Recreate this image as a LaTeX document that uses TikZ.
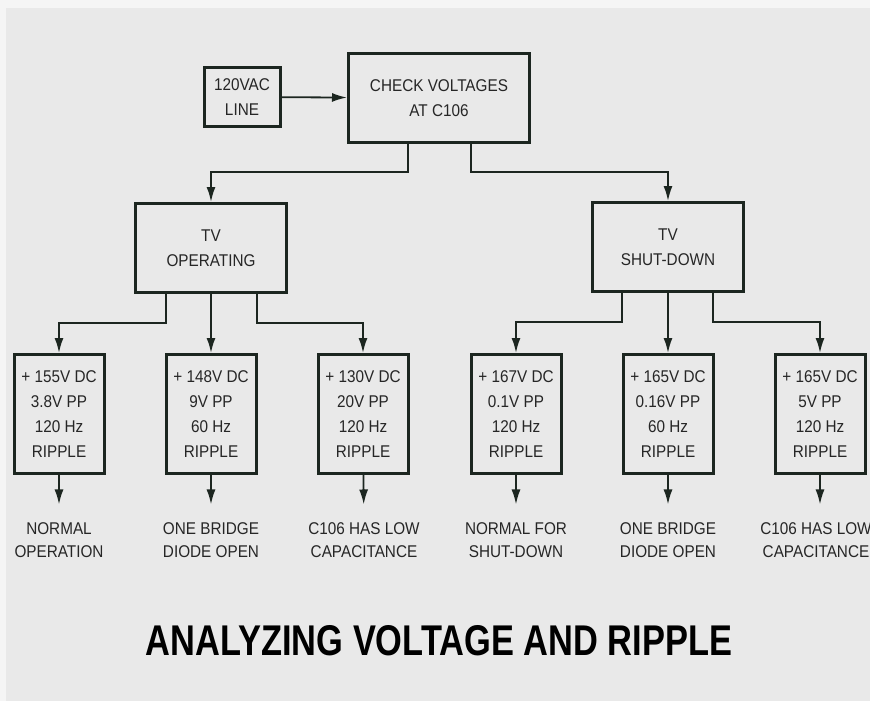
\documentclass[tikz,border=0pt]{standalone}
\usepackage{fontspec}
\newfontfamily\boxfont[FakeStretch=0.9]{Liberation Sans}
\newfontfamily\titlefont[FakeStretch=0.8]{Liberation Sans}
\usetikzlibrary{arrows.meta}
\definecolor{ink}{RGB}{28,38,32}
\definecolor{paper}{RGB}{233,233,233}
\begin{document}
\begin{tikzpicture}[x=1pt,y=-1pt,
 font=\boxfont\fontsize{17}{25}\selectfont,
 box/.style={draw=ink,line width=3pt,align=center,inner sep=2pt,text=black!85},
 small/.style={box,minimum width=90pt,minimum height=119pt},
 mid/.style={box,minimum width=151pt,minimum height=89pt},
 result/.style={align=center,inner sep=2pt,outer ysep=16pt,text=black!85,font=\boxfont\fontsize{17}{23}\selectfont},
 arrow/.style={-{Latex[length=15pt,width=9pt]},line width=1.8pt,draw=ink}]
\useasboundingbox (0,0) rectangle (870,701);
\fill[white!55!paper] (0,0) rectangle (870,701);
\fill[paper] (6,8) rectangle (870,701);
\node[box,minimum width=76pt,minimum height=59pt] (line) at (242,97) {120VAC\\LINE};
\node[box,minimum width=181pt,minimum height=89pt] (check) at (439,98) {CHECK VOLTAGES\\AT C106};
\draw[arrow] (line)--(check);
\node[mid] (tvop) at (211,248) {TV\\OPERATING};
\node[mid] (tvsd) at (668,247) {TV\\SHUT-DOWN};
\draw[arrow] ([xshift=-31pt]check.south) -- ++(0,28) -| (tvop.north);
\draw[arrow] ([xshift=32pt]check.south) -- ++(0,28) -| (tvsd.north);
\node[small] (b1) at (59,414) {+ 155V DC\\3.8V PP\\120 Hz\\RIPPLE};
\node[small] (b2) at (211,414) {+ 148V DC\\9V PP\\60 Hz\\RIPPLE};
\node[small] (b3) at (363,414) {+ 130V DC\\20V PP\\120 Hz\\RIPPLE};
\node[small] (b4) at (516,414) {+ 167V DC\\0.1V PP\\120 Hz\\RIPPLE};
\node[small] (b5) at (668,414) {+ 165V DC\\0.16V PP\\60 Hz\\RIPPLE};
\node[small] (b6) at (820,414) {+ 165V DC\\5V PP\\120 Hz\\RIPPLE};
\draw[arrow] ([xshift=-45pt]tvop.south) -- ++(0,29) -| (b1.north);
\draw[arrow] (tvop)--(b2);
\draw[arrow] ([xshift=46pt]tvop.south) -- ++(0,29) -| (b3.north);
\draw[arrow] ([xshift=-46pt]tvsd.south) -- ++(0,29) -| (b4.north);
\draw[arrow] (tvsd)--(b5);
\draw[arrow] ([xshift=45pt]tvsd.south) -- ++(0,29) -| (b6.north);
\node[result] (r1) at (59,540) {NORMAL\\OPERATION};
\node[result] (r2) at (211,540) {ONE BRIDGE\\DIODE OPEN};
\node[result] (r3) at (364,540) {C106 HAS LOW\\CAPACITANCE};
\node[result] (r4) at (516,540) {NORMAL FOR\\SHUT-DOWN};
\node[result] (r5) at (668,540) {ONE BRIDGE\\DIODE OPEN};
\node[result] (r6) at (816,540) {C106 HAS LOW\\CAPACITANCE};
\draw[arrow] (b1)--(r1);\draw[arrow] (b2)--(r2);\draw[arrow] (b3)--(r3);
\draw[arrow] (b4)--(r4);\draw[arrow] (b5)--(r5);\draw[arrow] (b6.south)--(b6.south|-r6.north);
\node[font=\titlefont\bfseries\fontsize{43}{43}\selectfont] (title) at (439,641) {ANALYZING VOLTAGE AND RIPPLE};
\end{tikzpicture}
\end{document}
